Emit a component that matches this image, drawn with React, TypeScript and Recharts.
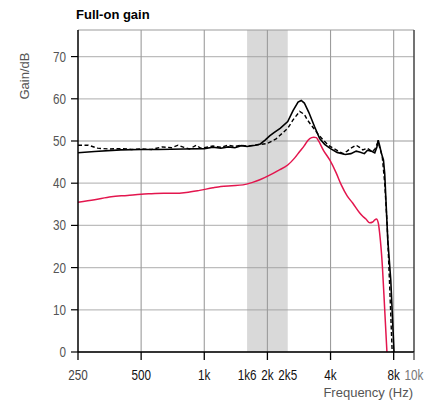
import { LineChart, Line, XAxis, YAxis, CartesianGrid, ReferenceArea, ReferenceLine } from 'recharts';

// Full-on gain curves (frequency in Hz, gain in dB)
const SANS = '"Liberation Sans", Arial, sans-serif';

const xTicks = [250, 500, 1000, 1600, 2000, 2500, 4000, 8000, 10000];
const xTickLabels = ['250', '500', '1k', '1k6', '2k', '2k5', '4k', '8k', '10k'];
const xMajorTicks = [250, 500, 1000, 2000, 4000, 8000, 10000];
const gridFreqs = [500, 1000, 2000, 4000, 8000];
const yTicks = [0, 10, 20, 30, 40, 50, 60, 70];
const band = [1600, 2500];

// solid black curve
const solidFreq = [250, 300, 400, 500, 600, 800, 1000, 1100, 1200, 1300, 1400, 1500, 1600, 1750, 1850, 1950, 2050, 2150, 2300, 2500, 2650, 2800, 2900, 3000, 3150, 3350, 3550, 3750, 4000, 4300, 4700, 5000, 5300, 5500, 5800, 6000, 6250, 6500, 6650, 6750, 6850, 7000, 7150, 7250, 7500, 7750, 8030];
const solidGain = [47.2, 47.5, 47.9, 48.0, 48.0, 48.1, 48.2, 48.5, 48.3, 48.6, 48.4, 48.9, 48.7, 49.0, 49.3, 50.2, 51.2, 52.0, 53.0, 54.6, 57.2, 59.2, 59.6, 59.0, 56.8, 53.5, 50.6, 49.2, 48.2, 47.3, 46.8, 47.0, 47.6, 47.4, 47.0, 47.8, 47.6, 47.2, 48.5, 50.2, 49.0, 47.0, 45.5, 42.3, 26.5, 17.0, 0];

// dashed black curve
const dashedFreq = [250, 280, 310, 350, 400, 450, 500, 560, 630, 700, 750, 800, 850, 915, 960, 1000, 1100, 1200, 1300, 1400, 1500, 1600, 1800, 2000, 2200, 2400, 2500, 2650, 2850, 3000, 3100, 3300, 3500, 3700, 3900, 4150, 4400, 4600, 4800, 5000, 5300, 5500, 5700, 6000, 6300, 6500, 6735, 6900, 7050, 7250, 7450, 7650, 7870];
const dashedGain = [49.0, 49.0, 48.3, 48.1, 48.2, 48.0, 48.1, 48.0, 48.6, 48.4, 49.0, 48.5, 48.1, 49.0, 48.3, 48.4, 48.8, 48.5, 49.0, 48.7, 49.0, 48.8, 49.1, 49.4, 50.5, 52.2, 53.0, 55.0, 57.0, 56.3, 55.0, 53.2, 51.5, 50.2, 49.0, 48.2, 47.5, 47.0, 47.6, 48.3, 49.0, 48.5, 47.9, 48.3, 47.5, 48.0, 49.8, 48.0, 46.5, 40.0, 30.0, 16.0, 0];

// red curve
const redFreq = [250, 300, 360, 430, 500, 560, 640, 720, 820, 950, 1100, 1200, 1350, 1530, 1700, 1840, 2050, 2250, 2500, 2700, 2850, 3000, 3125, 3250, 3330, 3420, 3490, 3700, 3965, 4250, 4500, 4800, 5100, 5500, 5710, 5900, 6150, 6350, 6500, 6620, 6760, 6860, 7070, 7250, 7430];
const redGain = [35.5, 36.1, 36.8, 37.1, 37.4, 37.5, 37.6, 37.6, 37.8, 38.3, 38.9, 39.2, 39.4, 39.6, 40.2, 40.8, 41.9, 43.0, 44.3, 46.0, 47.5, 48.9, 50.2, 50.8, 50.9, 50.8, 50.2, 47.8, 45.5, 42.5, 39.6, 37.0, 35.3, 33.0, 32.1, 31.5, 30.6, 30.8, 31.3, 31.5, 30.5, 28.1, 20.2, 10.0, 0];

const zip = (f: number[], g: number[]) => f.map((freq, i) => ({ freq, gain: g[i] }));
const solidData = zip(solidFreq, solidGain);
const dashedData = zip(dashedFreq, dashedGain);
const redData = zip(redFreq, redGain);

// the original uses a condensed face; squeeze the regular one horizontally
const SQUEEZE = 0.78;

function FreqTick(props: any) {
  const { x, y, payload } = props;
  const v = payload.value as number;
  const label = xTickLabels[xTicks.indexOf(v)];
  return (
    <g>
      {xMajorTicks.includes(v) && (
        <line x1={x} x2={x} y1={y} y2={y + 8} stroke={v === 10000 ? '#444' : '#000'} strokeWidth={1.3} />
      )}
      <text
        transform={`translate(${x},${y + 28}) scale(${SQUEEZE},1)`}
        textAnchor="middle"
        fontFamily={SANS}
        fontSize={15}
        fill={v === 10000 ? '#777' : v === 250 ? '#444' : '#111'}
      >
        {label}
      </text>
    </g>
  );
}

function GainTick(props: any) {
  const { x, y, payload } = props;
  return (
    <text
      transform={`translate(${x},${y + 5}) scale(${SQUEEZE},1)`}
      textAnchor="end"
      fontFamily={SANS}
      fontSize={15}
      fill="#555"
    >
      {payload.value}
    </text>
  );
}

export default function App() {
  return (
    <div style={{ position: 'absolute', left: 0, top: 0, width: 437, height: 402, background: '#fff' }}>
      <div style={{ position: 'absolute', left: 76, top: 8, fontFamily: SANS, fontWeight: 700, fontSize: 13, lineHeight: '14px', color: '#000' }}>
        Full-on gain
      </div>
      <div
        style={{
          position: 'absolute', left: 25, top: 76, fontFamily: SANS, fontSize: 13, lineHeight: '14px', color: '#555',
          transform: 'translate(-50%, -50%) rotate(-90deg)', whiteSpace: 'nowrap',
        }}
      >
        Gain/dB
      </div>
      <div style={{ position: 'absolute', right: 24, top: 385, fontFamily: SANS, fontSize: 13, lineHeight: '15px', color: '#555' }}>
        Frequency (Hz)
      </div>
      <LineChart width={437} height={402} margin={{ top: 30, right: 23, bottom: 0, left: 0 }}>
        <CartesianGrid vertical={false} stroke="#bdbdbd" strokeWidth={1.3} />
        <ReferenceArea x1={band[0]} x2={band[1]} fill="#9a9a9a" fillOpacity={0.38} stroke="none" ifOverflow="extendDomain" />
        {gridFreqs.map(f => (
          <ReferenceLine key={f} x={f} stroke="#9c9c9c" strokeWidth={1.1} />
        ))}
        <ReferenceLine x={10000} stroke="#444" strokeWidth={1.5} />
        <XAxis
          dataKey="freq"
          type="number"
          scale="log"
          domain={[250, 10000]}
          allowDataOverflow
          ticks={xTicks}
          interval={0}
          height={50}
          tickSize={0}
          tickMargin={0}
          tickLine={false}
          axisLine={{ stroke: '#000', strokeWidth: 1.5 }}
          tick={<FreqTick />}
        />
        <YAxis
          type="number"
          domain={[0, 76.3]}
          allowDataOverflow
          ticks={yTicks}
          width={78}
          tickSize={7}
          tickMargin={5}
          tickLine={{ stroke: '#000', strokeWidth: 1.2 }}
          axisLine={{ stroke: '#000', strokeWidth: 1.5 }}
          tick={<GainTick />}
        />
        <Line data={redData} dataKey="gain" type="monotone" stroke="#e3164e" strokeWidth={1.5} dot={false} isAnimationActive={false} />
        <Line data={solidData} dataKey="gain" type="linear" stroke="#000" strokeWidth={1.6} dot={false} isAnimationActive={false} />
        <Line data={dashedData} dataKey="gain" type="linear" stroke="#000" strokeWidth={1.4} strokeDasharray="4 2.5" dot={false} isAnimationActive={false} />
      </LineChart>
    </div>
  );
}
